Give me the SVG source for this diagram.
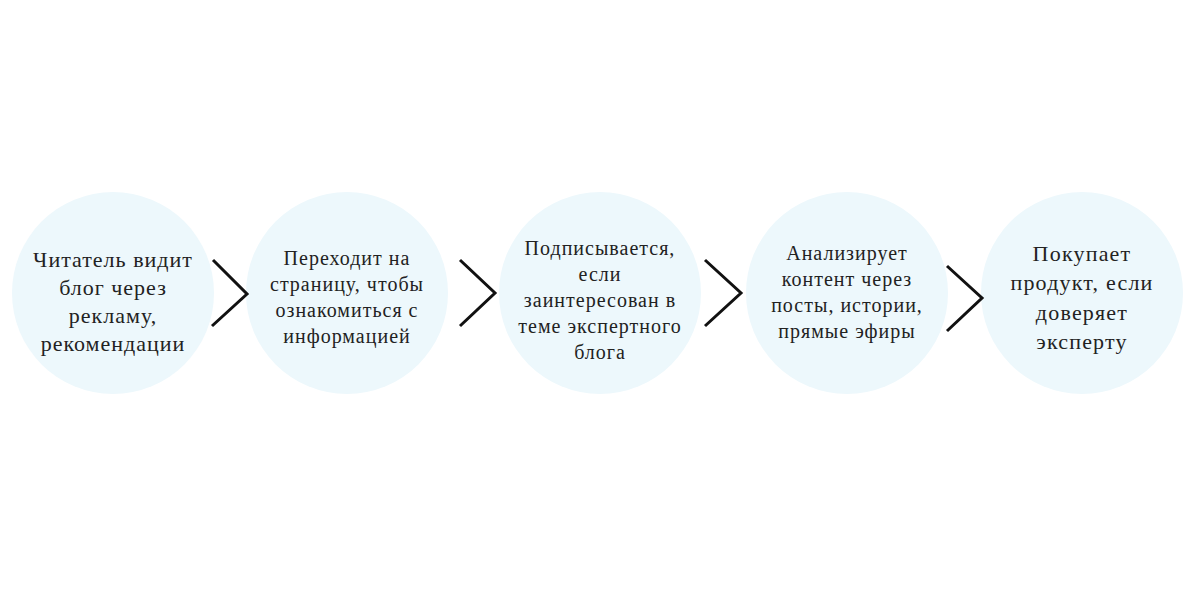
<svg xmlns="http://www.w3.org/2000/svg" width="1200" height="600" viewBox="0 0 1200 600">
<style>
.c{fill:#edf8fc}
.t{font-family:"Liberation Serif","DejaVu Serif",serif;fill:#222;text-anchor:middle;letter-spacing:1px}
.s{font-size:20px}
.l{font-size:22px}
.a{fill:none;stroke:#111;stroke-width:3}
</style>
<rect width="1200" height="600" fill="#fff"/>
<g id="node1"><circle class="c" cx="113" cy="293" r="101"/>
<text class="t l"><tspan x="113" y="267">Читатель видит</tspan><tspan x="113" y="295">блог через</tspan><tspan x="113" y="323">рекламу,</tspan><tspan x="113" y="351">рекомендации</tspan></text></g>
<g id="node2"><circle class="c" cx="347" cy="293" r="101"/>
<text class="t s"><tspan x="347" y="265">Переходит на</tspan><tspan x="347" y="291">страницу, чтобы</tspan><tspan x="347" y="317">ознакомиться с</tspan><tspan x="347" y="343">информацией</tspan></text></g>
<g id="node3"><circle class="c" cx="600" cy="293" r="101"/>
<text class="t s"><tspan x="600" y="255">Подписывается,</tspan><tspan x="600" y="281">если</tspan><tspan x="600" y="307">заинтересован в</tspan><tspan x="600" y="333">теме экспертного</tspan><tspan x="600" y="359">блога</tspan></text></g>
<g id="node4"><circle class="c" cx="847" cy="293" r="101"/>
<text class="t s"><tspan x="847" y="260">Анализирует</tspan><tspan x="847" y="286">контент через</tspan><tspan x="847" y="312">посты, истории,</tspan><tspan x="847" y="338">прямые эфиры</tspan></text></g>
<g id="node5"><circle class="c" cx="1082" cy="293" r="101"/>
<text class="t l" style="letter-spacing:1.2px"><tspan x="1082" y="261">Покупает</tspan><tspan x="1082" y="290">продукт, если</tspan><tspan x="1082" y="320">доверяет</tspan><tspan x="1082" y="349">эксперту</tspan></text></g>
<g id="connectors">
<polyline class="a" points="213,260 247,294 212,326"/>
<polyline class="a" points="460,260 495,293 460,326"/>
<polyline class="a" points="705,260 741,293 705,326"/>
<polyline class="a" points="947,266 982,298 947,331"/>
</g>
</svg>
